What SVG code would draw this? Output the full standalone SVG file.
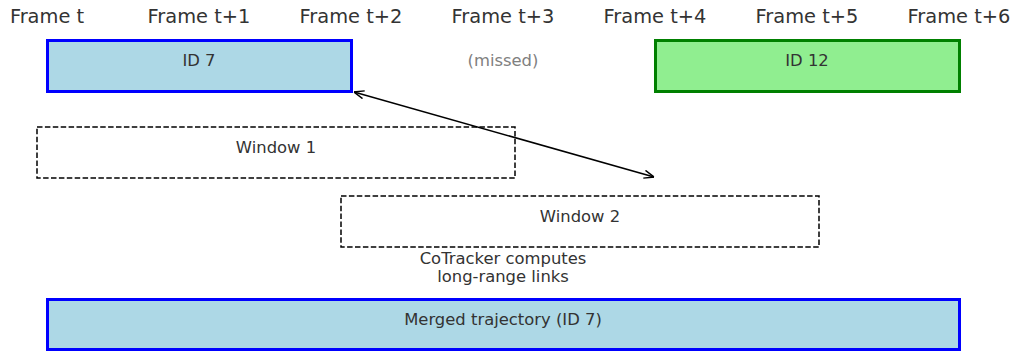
<svg xmlns="http://www.w3.org/2000/svg" width="1018" height="351" viewBox="0 0 1018 351">
<style>
text{font-family:"DejaVu Sans","Liberation Sans",sans-serif;fill:#333333;text-anchor:middle}
.fr{font-size:19.4px}
.lb{font-size:16.4px}
.win{fill:none;stroke:#000;stroke-width:1.5;stroke-dasharray:5.5,2.4}
.blue{fill:#ADD8E6;stroke:#0000FF;stroke-width:3}
.green{fill:#90EE90;stroke:#008000;stroke-width:3}
</style>
<defs>
<marker id="ah" viewBox="0 0 10 10" refX="10" refY="5" markerWidth="10" markerHeight="10" markerUnits="userSpaceOnUse" orient="auto-start-reverse">
<path d="M0,1 L10,5 L0,9" fill="none" stroke="#000" stroke-width="1.5"/>
</marker>
</defs>
<g id="frames">
<text class="fr" x="47" y="23">Frame t</text>
<text class="fr" x="199" y="23">Frame t+1</text>
<text class="fr" x="351" y="23">Frame t+2</text>
<text class="fr" x="503" y="23">Frame t+3</text>
<text class="fr" x="655" y="23">Frame t+4</text>
<text class="fr" x="807" y="23">Frame t+5</text>
<text class="fr" x="959" y="23">Frame t+6</text>
</g>
<g id="id7">
<rect class="blue" x="47.5" y="40.5" width="304" height="51"/>
<text class="lb" x="199" y="66">ID 7</text>
</g>
<g id="missed">
<text class="lb" x="503" y="66" style="fill:#808080">(missed)</text>
</g>
<g id="id12">
<rect class="green" x="655.5" y="40.5" width="304" height="51"/>
<text class="lb" x="807" y="66">ID 12</text>
</g>
<g id="window1">
<rect class="win" x="37" y="127" width="478" height="51"/>
<text class="lb" x="276" y="153">Window 1</text>
</g>
<g id="window2">
<rect class="win" x="341" y="196" width="478" height="51"/>
<text class="lb" x="580" y="222">Window 2</text>
</g>
<g id="note">
<text class="lb" x="503" y="264">CoTracker computes</text>
<text class="lb" x="503" y="282">long-range links</text>
</g>
<g id="merged">
<rect class="blue" x="47.5" y="299.5" width="912" height="50"/>
<text class="lb" x="503" y="325">Merged trajectory (ID 7)</text>
</g>
<g id="connectors">
<line x1="354" y1="92" x2="654" y2="177" stroke="#000" stroke-width="1.5" marker-start="url(#ah)" marker-end="url(#ah)"/>
</g>
</svg>
